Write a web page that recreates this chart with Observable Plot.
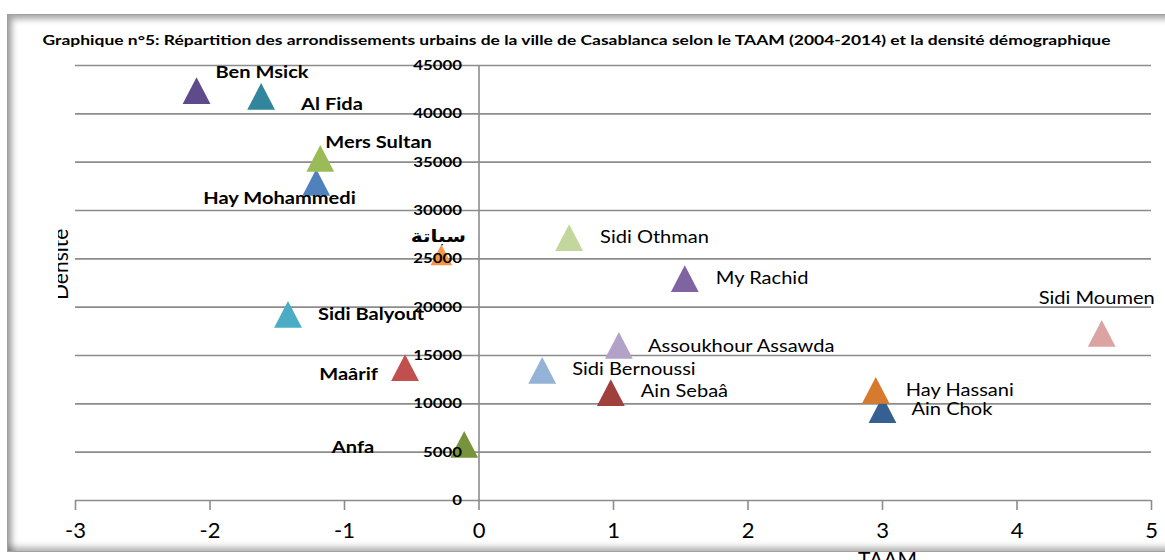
<!DOCTYPE html>
<html><head><meta charset="utf-8">
<script src="https://cdn.jsdelivr.net/npm/d3@7"></script>
<script src="https://cdn.jsdelivr.net/npm/@observablehq/plot@0.6"></script>
<style>
body{margin:0;background:#fff;}
#wrap{position:relative;width:1165px;height:560px;overflow:hidden;}
#chart{position:absolute;left:0;top:0;}
#frame{position:absolute;left:7px;top:14px;width:1180px;height:536px;border:1px solid #a0a0a0;pointer-events:none;
box-shadow: inset 7px 7px 6px -3px rgba(0,0,0,0.35), inset 0 -7px 6px -3px rgba(0,0,0,0.3);}
</style></head>
<body><div id="wrap"><div id="chart"></div><div id="frame"></div></div>
<script>
// ---- data ----
const names = ["Ben Msick","Al Fida","Hay Mohammedi","Mers Sultan","سباتة","Sidi Balyout","Maârif","Anfa",
  "Sidi Othman","My Rachid","Sidi Moumen","Assoukhour Assawda","Sidi Bernoussi","Ain Sebaâ","Ain Chok","Hay Hassani"];
const taam = [-2.10,-1.62,-1.21,-1.18,-0.28,-1.42,-0.55,-0.11,0.67,1.53,4.63,1.04,0.47,0.98,3.00,2.95];
const densite = [42400,41800,32900,35400,25400,19250,13750,5800,27200,22950,17300,16050,13450,11150,9400,11400];
const colors = ["#5f4b8b","#31859c","#4f81bd","#9bbb59","#f79646","#4bacc6","#c0504d","#77933c",
  "#c3d69b","#8064a2","#dba4a3","#b3a2c7","#95b3d7","#a0403c","#376092","#d67a30"];
const xTicks = [-3,-2,-1,0,1,2,3,4,5];
const yTicks = [0,5000,10000,15000,20000,25000,30000,35000,40000,45000];
const title = "Graphique n°5: Répartition des arrondissements urbains de la ville de Casablanca selon le TAAM (2004-2014) et la densité démographique";
const xLabel = "TAAM";
const yLabel = "Densité";
// ---- label layout (offsets in px) ----
const labelDx = [19,40,-113,5,-3,30,-27,-90,31,31,-63,29,30,30,29,30];
const labelDy = [-18,8,16,-16,-18,0,7,3,0,0,-35,1,-1,-1,0,0];
const labelAnchor = ["start","start","start","start","middle","start","end","end","start","start","start","start","start","start","start","start"];

const idx = names.map((_, i) => i);
const FONT = "Lato, 'DejaVu Sans', sans-serif";
const GRID = "#8c8c8c";

const tri = {draw(ctx, size){ const r = Math.sqrt(size/Math.PI); const hw = 1.35*r, hh = 1.3*r;
  ctx.moveTo(0,-hh); ctx.lineTo(hw,hh); ctx.lineTo(-hw,hh); ctx.closePath(); }};
const small = names.indexOf("سباتة");

const labelMarks = idx.map(i => Plot.text([i], {
  x: j => taam[j], y: j => densite[j], text: j => names[j],
  dx: labelDx[i], dy: labelDy[i], textAnchor: labelAnchor[i],
  fontWeight: taam[i] < 0 ? "bold" : "normal", fontSize: 17, fill: "#000",
  fontFamily: FONT, ariaDescription: "ptlabel"
}));

const plot = Plot.plot({
  width: 1165, height: 560,
  marginLeft: 75, marginRight: 14, marginTop: 65, marginBottom: 60,
  style: {background: "transparent", fontFamily: FONT, overflow: "visible"},
  x: {domain: [-3, 5]},
  y: {domain: [0, 45000], axis: null},
  marks: [
    Plot.ruleY(yTicks, {stroke: GRID, strokeWidth: 1.6}),
    Plot.ruleX([0], {y1: 0, y2: 45000, stroke: GRID, strokeWidth: 1.6}),
    Plot.axisX(xTicks, {tickSize: 10, tickPadding: 12, fontSize: 22, stroke: GRID, strokeWidth: 1.6,
      tickFormat: d => String(d), fill: "#000", fontFamily: FONT, label: null}),
    Plot.dot(idx.filter(i => i !== small), {x: i => taam[i], y: i => densite[i], fill: i => colors[i], r: 10.3, symbol: tri}),
    Plot.dot([small], {x: i => taam[i], y: i => densite[i], fill: i => colors[i], r: 8, symbol: tri}),
    Plot.text(yTicks, {x: () => 0, y: d => d, text: d => String(d), textAnchor: "end", dx: -17,
      fontWeight: "bold", fontSize: 14, fill: "#000", fontFamily: FONT, ariaDescription: "ylab"}),
    ...labelMarks,
    Plot.text([title], {frameAnchor: "top-left", dx: -33, dy: -25, textAnchor: "start", lineAnchor: "middle",
      fontWeight: "bold", fontSize: 14, fill: "#000", fontFamily: FONT, ariaDescription: "title"}),
    Plot.text([xLabel], {frameAnchor: "bottom", dx: 274, dy: 52, lineAnchor: "top", fontSize: 21, fill: "#000", fontFamily: FONT}),
    Plot.text([yLabel], {frameAnchor: "left", dx: -8, dy: 17, rotate: -90, lineAnchor: "bottom", fontSize: 21, fill: "#000", fontFamily: FONT, ariaDescription: "ylabel"})
  ]
});
document.getElementById("chart").appendChild(plot);

const svg = d3.select(plot);
function textsOf(label){
  const out = [];
  svg.selectAll(`[aria-description="${label}"]`).each(function(){
    if (this.tagName.toLowerCase() === "text") out.push(this);
    else d3.select(this).selectAll("text").each(function(){ out.push(this); });
  });
  return out;
}
function stretch(nodes, f){ nodes.forEach(n => { const L = n.getComputedTextLength(); n.setAttribute("textLength", L*f); n.setAttribute("lengthAdjust","spacingAndGlyphs"); }); }
stretch(textsOf("ptlabel"), 1.18);
stretch(textsOf("ylab"), 1.2);
textsOf("title").forEach(n => { n.setAttribute("textLength", 1068); n.setAttribute("lengthAdjust","spacingAndGlyphs"); });
// clip the rotated axis title like the original
svg.append("defs").append("clipPath").attr("id","clipYL").append("rect").attr("x",58).attr("y",0).attr("width",200).attr("height",560);
const ylG = svg.select('[aria-description="ylabel"]').node();
if (ylG) {
  const wrapG = svg.append("g").attr("clip-path","url(#clipYL)");
  wrapG.node().appendChild(ylG);
}
</script>
</body></html>
